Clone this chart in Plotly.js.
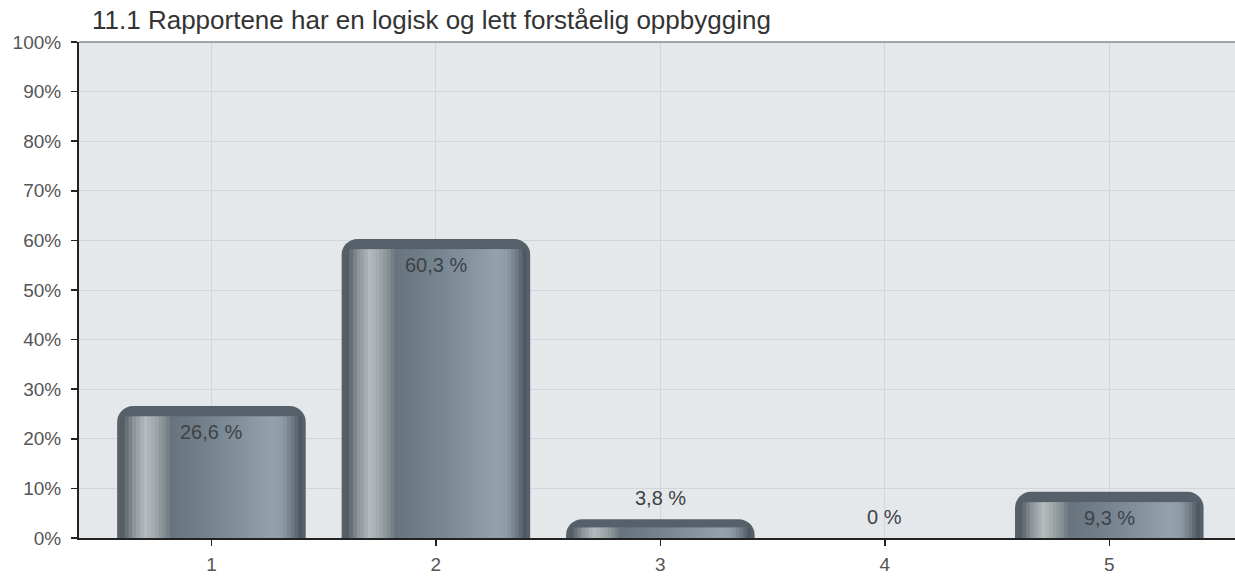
<!DOCTYPE html>
<html>
<head>
<meta charset="utf-8">
<script src="https://cdn.plot.ly/plotly-3.0.1.min.js"></script>
<style>
html,body{margin:0;padding:0;background:#fff;}
#chart{width:1235px;height:576px;}
</style>
</head>
<body>
<div id="chart"></div>
<script>
// ---- data ----
const categories = [1, 2, 3, 4, 5];
const percentValues = [26.6, 60.3, 3.8, 0, 9.3];
const yTickValues = [0, 10, 20, 30, 40, 50, 60, 70, 80, 90, 100];
const yTickLabels = ['0%', '10%', '20%', '30%', '40%', '50%', '60%', '70%', '80%', '90%', '100%'];
const chartTitle = '11.1 Rapportene har en logisk og lett forståelig oppbygging';

// ---- styling helpers ----
const FONT = 'Liberation Sans, Arial, sans-serif';
const BAR_W = 0.84;
const gradientStops = [
  [0.00, [63, 71, 78]],
  [0.04, [93, 102, 109]],
  [0.09, [142, 150, 155]],
  [0.15, [181, 186, 188]],
  [0.20, [160, 168, 172]],
  [0.26, [126, 135, 141]],
  [0.285, [104, 116, 125]],
  [0.40, [111, 124, 134]],
  [0.55, [122, 136, 147]],
  [0.70, [135, 150, 161]],
  [0.82, [147, 162, 173]],
  [0.88, [141, 155, 165]],
  [0.93, [110, 122, 131]],
  [0.97, [79, 88, 96]],
  [1.00, [63, 71, 78]]
];
function colorAt(f) {
  for (let i = 0; i < gradientStops.length - 1; i++) {
    const a = gradientStops[i], b = gradientStops[i + 1];
    if (f >= a[0] && f <= b[0]) {
      const t = (f - a[0]) / (b[0] - a[0]);
      const c = a[1].map((v, k) => Math.round(v + (b[1][k] - v) * t));
      return 'rgb(' + c.join(',') + ')';
    }
  }
  return 'rgb(63,71,78)';
}

const traces = [];
// base rounded bar (dome cap + edges)
traces.push({
  type: 'bar', x: categories, y: percentValues, width: BAR_W,
  marker: {color: '#56606a', cornerradius: 16, line: {width: 0}},
  hoverinfo: 'skip'
});
// vertical strips to simulate cylinder shading
const stripStart = 0.02, stripEnd = 0.98, nStrips = 48;
const stripStep = (stripEnd - stripStart) / nStrips;
const stripHeights = percentValues.map(v => Math.max(0, v - Math.min(2.1, v * 0.45)));
for (let i = 0; i < nStrips; i++) {
  const f0 = stripStart + i * stripStep;
  const fc = f0 + stripStep / 2;
  const w = (i === nStrips - 1) ? stripStep : stripStep * 2;
  traces.push({
    type: 'bar', x: categories, y: stripHeights,
    width: w * BAR_W,
    offset: -BAR_W / 2 + f0 * BAR_W,
    marker: {color: colorAt(fc), line: {width: 0}},
    hoverinfo: 'skip'
  });
}

const annotations = categories.map((c, i) => {
  const v = percentValues[i];
  return {
    x: c, y: v, xref: 'x', yref: 'y',
    text: String(v).replace('.', ',') + ' %',
    showarrow: false,
    yanchor: 'middle',
    yshift: v > 5 ? -26 : 21,
    font: {family: FONT, size: 20, color: '#3d4348'}
  };
});

const layout = {
  width: 1235, height: 576,
  margin: {l: 79, r: 0, t: 42, b: 38, pad: 0},
  paper_bgcolor: '#ffffff',
  plot_bgcolor: '#e5e8eb',
  barmode: 'overlay',
  showlegend: false,
  hovermode: false,
  font: {family: FONT, size: 19, color: '#555'},
  title: {
    text: chartTitle,
    xref: 'container', yref: 'container',
    x: 92 / 1235, xanchor: 'left',
    y: 1 - 20 / 576, yanchor: 'middle',
    font: {family: FONT, size: 26, color: '#333'}
  },
  xaxis: {
    range: [0.41, 5.56],
    tickvals: categories,
    ticktext: categories.map(String),
    ticks: 'outside', ticklen: 6, tickwidth: 1.5, tickcolor: '#222',
    ticklabelstandoff: 2,
    showline: true, linecolor: '#222', linewidth: 2,
    showgrid: true, gridcolor: '#d2d5d9', gridwidth: 1,
    zeroline: false,
    tickfont: {family: FONT, size: 19, color: '#555'}
  },
  yaxis: {
    range: [0, 100],
    tickvals: yTickValues,
    ticktext: yTickLabels,
    ticks: 'outside', ticklen: 6, tickwidth: 1.5, tickcolor: '#222',
    ticklabelstandoff: 6,
    showline: true, linecolor: '#222', linewidth: 2,
    showgrid: true, gridcolor: '#d2d5d9', gridwidth: 1,
    zeroline: false,
    tickfont: {family: FONT, size: 19, color: '#555'}
  },
  shapes: [{
    type: 'line', xref: 'paper', yref: 'paper', x0: 0, x1: 1, y0: 1, y1: 1,
    line: {color: '#8a8a8a', width: 1.5}
  }],
  annotations: annotations
};

Plotly.newPlot('chart', traces, layout, {displayModeBar: false, staticPlot: true});
</script>
</body>
</html>
